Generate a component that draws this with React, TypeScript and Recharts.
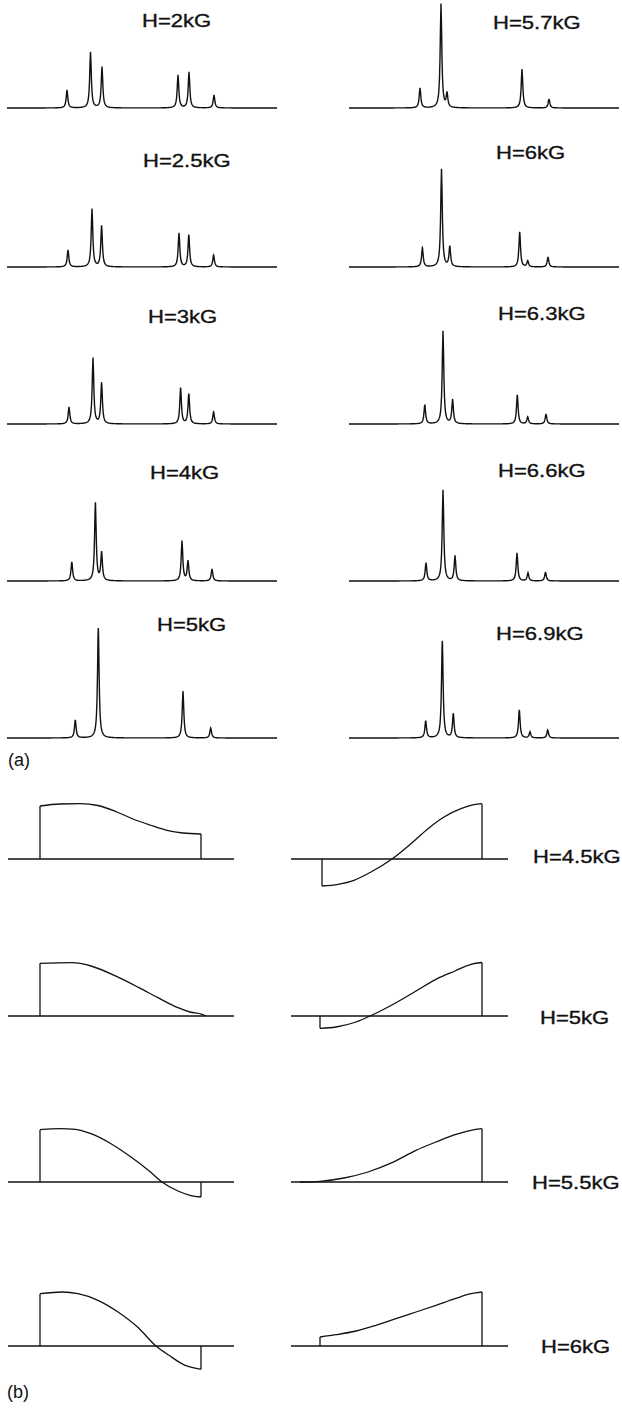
import React from 'react';
import { LineChart, Line, XAxis, YAxis, ReferenceLine } from 'recharts';

// ---------- (a) spectra: line positions (sweep channels) and amplitudes ----------
const pos2kG = [60, 83.5, 95, 171, 182, 207];
const amp2kG = [18, 56, 41, 33, 36, 13];
const pos2p5kG = [61, 85, 94.6, 172, 181.8, 206.6];
const amp2p5kG = [17, 58, 41, 34, 32, 12];
const pos3kG = [62, 86, 94.6, 173.6, 181.8, 206.6];
const amp3kG = [17, 66, 41, 36, 30, 12];
const pos4kG = [64.8, 88.4, 94.6, 175, 181, 205];
const amp4kG = [19, 78, 28, 40, 20, 12];
const pos5kG = [68.3, 91.3, 176, 203.7];
const amp5kG = [18, 110, 47, 10];

const pos5p7kG = [71, 92, 98, 173, 200];
const amp5p7kG = [20, 104, 14, 39, 9];
const pos6kG = [73.4, 92.5, 100.8, 170.7, 178.7, 199];
const amp6kG = [19, 98, 20, 35, 6, 10];
const pos6p3kG = [75.8, 94, 103.6, 168.3, 178.7, 197];
const amp6p3kG = [19, 93, 24, 29, 7, 10];
const pos6p6kG = [77, 94, 106, 168, 179, 196.5];
const amp6p6kG = [18, 91, 25, 28, 8, 9];
const pos6p9kG = [76.7, 93.3, 104.3, 170.3, 181, 198.7];
const amp6p9kG = [17, 97, 24, 28, 6, 8];

const fieldsLeftA = ['H=2kG', 'H=2.5kG', 'H=3kG', 'H=4kG', 'H=5kG'];
const fieldsRightA = ['H=5.7kG', 'H=6kG', 'H=6.3kG', 'H=6.6kG', 'H=6.9kG'];

// ---------- (b) signal shapes: sweep position and amplitude ----------
const x45L = [32, 52, 72, 90, 109, 125, 142, 159, 175, 193];
const y45L = [53, 55, 55.3, 53.5, 47, 40, 34, 28.7, 26, 25];
const x45R = [31, 47, 63, 80, 101, 120, 137, 153, 170, 183, 191];
const y45R = [-27, -25.3, -21.3, -13, 0, 15.3, 30.3, 42, 50.3, 54.3, 55.3];

const x50L = [32, 64, 83, 111, 131, 150, 170, 182, 194, 198];
const y50L = [52.7, 53.3, 50, 38.3, 28.3, 18.3, 8.3, 4, 1.7, 0];
const x50R = [29, 45, 65, 79, 105, 125, 145, 164, 180, 191];
const y50R = [-12.3, -11, -6, 0, 13.3, 25, 36.7, 45, 51.7, 53.5];

const x55L = [32, 52, 67.5, 83, 103, 123, 142.5, 154, 170, 182, 193];
const y55L = [52.3, 53.3, 52.7, 48.3, 38.3, 25, 10, 0, -9, -13.3, -15];
const x55R = [9, 29, 53, 77, 101, 125, 145, 164, 180, 191];
const y55R = [0, 0.7, 4, 10, 19.3, 31.7, 40, 47.3, 51.7, 53.3];

const x60L = [32, 54.5, 70, 90, 110, 129.5, 148, 161, 177, 185, 193];
const y60L = [52.3, 54, 52.3, 45.7, 34, 19, 0, -9.3, -19.3, -21.7, -23.3];
const x60R = [29, 45, 65, 85, 105, 125, 145, 164, 180, 191];
const y60R = [9, 11.3, 15, 20.7, 27.3, 34, 40.7, 47.3, 52.3, 54];

const fieldsB = ['H=4.5kG', 'H=5kG', 'H=5.5kG', 'H=6kG'];

// ---------- layout ----------
const SWEEP_A = 270;
const HWHM = 0.95;
const INK = '#111';
const FONT = '"Liberation Sans", Arial, sans-serif';

// Lorentzian line profile summed over all lines of one spectrum
function spectrum(pos: number[], amp: number[]) {
  const xs = new Set<number>();
  for (let i = 0; i <= SWEEP_A * 2; i++) xs.add(i / 2);
  pos.forEach((p) => xs.add(p));
  return Array.from(xs)
    .sort((a, b) => a - b)
    .map((x) => ({
      x,
      y: pos.reduce((s, p, i) => s + amp[i] / (1 + ((x - p) / HWHM) ** 2), 0),
    }));
}

function zip(xs: number[], ys: number[]) {
  return xs.map((x, i) => ({ x, y: ys[i] }));
}

const spectraLeft = [
  spectrum(pos2kG, amp2kG),
  spectrum(pos2p5kG, amp2p5kG),
  spectrum(pos3kG, amp3kG),
  spectrum(pos4kG, amp4kG),
  spectrum(pos5kG, amp5kG),
];
const spectraRight = [
  spectrum(pos5p7kG, amp5p7kG),
  spectrum(pos6kG, amp6kG),
  spectrum(pos6p3kG, amp6p3kG),
  spectrum(pos6p6kG, amp6p6kG),
  spectrum(pos6p9kG, amp6p9kG),
];
const signalsLeft = [zip(x45L, y45L), zip(x50L, y50L), zip(x55L, y55L), zip(x60L, y60L)];
const signalsRight = [zip(x45R, y45R), zip(x50R, y50R), zip(x55R, y55R), zip(x60R, y60R)];

const baseA = [108, 266.5, 423.5, 580.5, 738];
const labelLeftA = [
  [142, 10.7], [143, 150.7], [148, 306.7], [150, 462.7], [157, 614.7],
];
const labelRightA = [
  [493, 12.7], [496, 142.7], [498, 303.7], [498, 460.7], [496, 623.7],
];
const baseB = [858.7, 1016, 1182, 1346];
const labelB = [[533, 846.7], [540, 1008], [532, 1173], [541, 1337]];

function Label({ text, x, y }: { text: string; x: number; y: number }) {
  return (
    <div
      style={{
        position: 'absolute',
        left: x,
        top: y,
        fontFamily: FONT,
        fontSize: 19,
        lineHeight: '19px',
        color: INK,
        whiteSpace: 'nowrap',
        transform: 'scaleX(1.16)',
        transformOrigin: '0 0',
        WebkitTextStroke: '0.35px #111',
      }}
    >
      {text}
    </div>
  );
}

function Spectrum({ data, left, base }: { data: { x: number; y: number }[]; left: number; base: number }) {
  return (
    <div style={{ position: 'absolute', left, top: base - 120 }}>
      <LineChart width={SWEEP_A} height={125} data={data} margin={{ top: 0, right: 0, bottom: 5, left: 0 }}>
        <XAxis dataKey="x" type="number" domain={[0, SWEEP_A]} hide />
        <YAxis type="number" domain={[0, 120]} hide />
        <Line
          dataKey="y"
          type="linear"
          stroke={INK}
          strokeWidth={1.4}
          dot={false}
          isAnimationActive={false}
        />
      </LineChart>
    </div>
  );
}

function Signal({
  data,
  left,
  base,
  width,
}: {
  data: { x: number; y: number }[];
  left: number;
  base: number;
  width: number;
}) {
  const first = data[0];
  const last = data[data.length - 1];
  return (
    <div style={{ position: 'absolute', left, top: base - 65 }}>
      <LineChart width={width} height={100} data={data} margin={{ top: 0, right: 0, bottom: 0, left: 0 }}>
        <XAxis dataKey="x" type="number" domain={[0, width]} hide />
        <YAxis type="number" domain={[-35, 65]} hide />
        <ReferenceLine y={0} stroke={INK} strokeWidth={1.5} />
        <ReferenceLine
          segment={[{ x: first.x, y: 0 }, { x: first.x, y: first.y }]}
          stroke={INK}
          strokeWidth={1.3}
        />
        <ReferenceLine
          segment={[{ x: last.x, y: 0 }, { x: last.x, y: last.y }]}
          stroke={INK}
          strokeWidth={1.3}
        />
        <Line
          dataKey="y"
          type="monotone"
          stroke={INK}
          strokeWidth={1.3}
          dot={false}
          isAnimationActive={false}
        />
      </LineChart>
    </div>
  );
}

export default function App() {
  return (
    <div
      style={{
        position: 'absolute',
        left: 0,
        top: 0,
        width: 622,
        height: 1408,
        overflow: 'hidden',
        background: '#fff',
      }}
    >
      {spectraLeft.map((d, i) => (
        <Spectrum key={'al' + i} data={d} left={7} base={baseA[i]} />
      ))}
      {spectraRight.map((d, i) => (
        <Spectrum key={'ar' + i} data={d} left={349} base={baseA[i]} />
      ))}
      {fieldsLeftA.map((t, i) => (
        <Label key={'lal' + i} text={t} x={labelLeftA[i][0]} y={labelLeftA[i][1]} />
      ))}
      {fieldsRightA.map((t, i) => (
        <Label key={'lar' + i} text={t} x={labelRightA[i][0]} y={labelRightA[i][1]} />
      ))}

      {signalsLeft.map((d, i) => (
        <Signal key={'bl' + i} data={d} left={8} base={baseB[i]} width={226} />
      ))}
      {signalsRight.map((d, i) => (
        <Signal key={'br' + i} data={d} left={291} base={baseB[i]} width={217} />
      ))}
      {fieldsB.map((t, i) => (
        <Label key={'lb' + i} text={t} x={labelB[i][0]} y={labelB[i][1]} />
      ))}

      <div style={{ position: 'absolute', left: 8, top: 750, fontFamily: FONT, fontSize: 18, color: INK }}>(a)</div>
      <div style={{ position: 'absolute', left: 7, top: 1382, fontFamily: FONT, fontSize: 18, color: INK }}>(b)</div>
    </div>
  );
}
